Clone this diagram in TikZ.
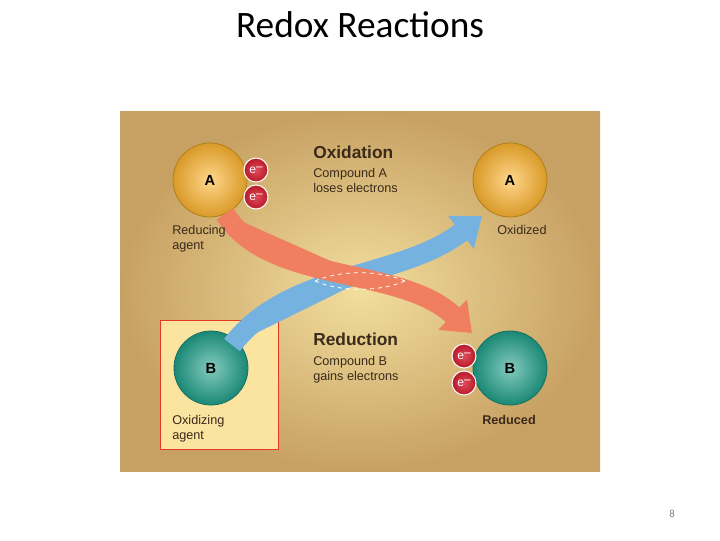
\documentclass[tikz,border=0pt]{standalone}
\usepackage{fontspec}
\setmainfont{Carlito}
\newfontfamily\arialf{Liberation Sans}
\usetikzlibrary{arrows.meta,shadings}
\definecolor{orA}{HTML}{FFB52E}
\definecolor{tealB}{HTML}{1FA08A}
\definecolor{eRed}{HTML}{D81E30}
\definecolor{arRed}{HTML}{F07F62}
\definecolor{arBlue}{HTML}{76B2E0}
\definecolor{panelIn}{HTML}{F2DE9E}
\definecolor{panelOut}{HTML}{C7A163}
\definecolor{boxY}{HTML}{FBE3A0}
\definecolor{txt}{HTML}{3A2A1A}
\tikzset{
  ball/.style={circle,minimum size=55.5pt,inner sep=0pt,draw=#1!70!black,line width=0.6pt,
    inner color=#1!55!white,outer color=#1!85!black,font=\arialf\bfseries\fontsize{11}{12}\selectfont},
  elec/.style={circle,minimum size=18pt,inner sep=0pt,draw=white,line width=0.8pt,
    inner color=eRed!80!white,outer color=eRed!85!black,text=white,font=\arialf\fontsize{9}{9}\selectfont},
  lbl/.style={align=left,anchor=north west,inner sep=0pt,text=txt,font=\arialf\fontsize{9.5}{11}\selectfont},
  head/.style={anchor=north west,inner sep=0pt,text=txt,font=\arialf\bfseries\fontsize{13}{14}\selectfont},
  band/.style={line width=15pt,-{Triangle[length=20pt,width=30pt]}}
}
\begin{document}
\begin{tikzpicture}[x=0.75pt,y=-0.75pt]
\useasboundingbox (0,0) rectangle (720,540);
\fill[white] (0,0) rectangle (720,540);
\node[font=\fontsize{28}{30}\selectfont] (title) at (360,25) {Redox Reactions};
\node[text=gray,font=\fontsize{8}{9}\selectfont] (pg) at (672,514) {8};
\shade[inner color=panelIn,outer color=panelOut] (120,111) rectangle (600,471);
\node[draw=eRed!70!orange,line width=1pt,fill=boxY,minimum width=88.5pt,minimum height=96.75pt,inner sep=0pt,anchor=north west] (box) at (160,320) {};
\node[ball=orA] (A1) at (210,180) {A};
\node[ball=orA] (A2) at (510,180) {A};
\node[ball=tealB] (B1) at (211,368) {B};
\node[ball=tealB] (B2) at (510,368) {B};
\coordinate (rs) at (225,214);
\coordinate (re) at (472,333);
\coordinate (bs) at (232,345);
\coordinate (be) at (482,216);
\draw[band,draw=arBlue,fill=arBlue] (bs) .. controls (290,270) and (400,280) .. (be);
\draw[band,draw=arRed,fill=arRed] (rs) .. controls (270,285) and (400,265) .. (re);
\draw[white,dashed,line width=0.6pt] (315,281) .. controls (340,270) and (380,270) .. (405,281);
\draw[white,dashed,line width=0.6pt] (315,281) .. controls (340,292) and (380,292) .. (405,281);
\node[elec] (e1) at (256,170) {e\raisebox{0.5ex}{–}};
\node[elec] (e2) at (256,197) {e\raisebox{0.5ex}{–}};
\node[elec] (e3) at (464,356) {e\raisebox{0.5ex}{–}};
\node[elec] (e4) at (464,383) {e\raisebox{0.5ex}{–}};
\node[lbl] (ra) at (172,225) {Reducing\\agent};
\node[lbl] (ox) at (497,225) {Oxidized};
\node[head] (oxh) at (313,146) {Oxidation};
\node[lbl] (oxt) at (313,168) {Compound A\\loses electrons};
\node[head] (reh) at (313,333) {Reduction};
\node[lbl] (ret) at (313,356) {Compound B\\gains electrons};
\node[lbl] (oa) at (172,415) {Oxidizing\\agent};
\node[lbl,anchor=north,font=\arialf\bfseries\fontsize{9.5}{11}\selectfont] (rd) at (509,415) {Reduced};
\end{tikzpicture}
\end{document}
